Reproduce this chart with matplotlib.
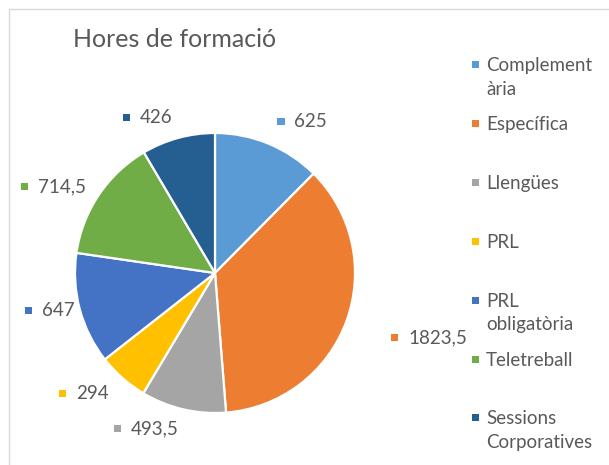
import matplotlib
matplotlib.use('Agg')
import matplotlib.pyplot as plt
from matplotlib.patches import Rectangle
from matplotlib.offsetbox import DrawingArea, TextArea, HPacker, AnnotationBbox
import numpy as np

categories = ['Complementària', 'Específica', 'Llengües', 'PRL',
              'PRL obligatòria', 'Teletreball', 'Sessions Corporatives']
legend_labels = ['Complement\nària', 'Específica', 'Llengües', 'PRL',
                 'PRL\nobligatòria', 'Teletreball', 'Sessions\nCorporatives']
values = [625, 1823.5, 493.5, 294, 647, 714.5, 426]
value_labels = ['625', '1823,5', '493,5', '294', '647', '714,5', '426']
colors = ['#5B9BD5', '#ED7D31', '#A5A5A5', '#FFC000', '#4472C4', '#70AD47', '#255E91']
title = 'Hores de formació'

# label placement (radial distance as a fraction of the radius)
label_dist = [1.17, 1.34, 1.14, 1.15, 1.04, 1.11, 1.15]

W, H = 609, 465
FONT = 'Lato'
TXT = '#595959'

fig = plt.figure(figsize=(W / 100, H / 100), dpi=100)
ax = fig.add_axes([0, 0, 1, 1])

cx, cy, R = 215, H - 273, 140
wedges, _ = ax.pie(values, colors=colors, startangle=90, counterclock=False,
                   center=(cx, cy), radius=R,
                   wedgeprops=dict(edgecolor='white', linewidth=1.6))
ax.set_xlim(0, W)
ax.set_ylim(0, H)
ax.set_aspect('auto')
ax.axis('off')

# chart area border
ax.add_patch(Rectangle((8.5, -30), W + 50, (H - 9.5) + 30, fill=False,
                       edgecolor='#D9D9D9', lw=1.0))

# title
ax.text(73, H - 47, title, fontsize=18, family=FONT, color=TXT, va='baseline', ha='left')

# data labels
for w, lab, col, dist in zip(wedges, value_labels, colors, label_dist):
    ang = np.deg2rad((w.theta1 + w.theta2) / 2)
    x = cx + dist * R * np.cos(ang)
    y = cy + dist * R * np.sin(ang)
    da = DrawingArea(5.2, 5.2, 0, 0)
    da.add_artist(Rectangle((0, 0), 5.2, 5.2, fc=col, ec='none'))
    ta = TextArea(lab, textprops=dict(fontsize=13.5, family=FONT, color=TXT))
    pk = HPacker(children=[da, ta], align='center', pad=0, sep=7)
    ab = AnnotationBbox(pk, (x, y), xycoords='data', frameon=False,
                        box_alignment=(0, 0.5) if np.cos(ang) >= 0 else (1, 0.5), pad=0)
    ax.add_artist(ab)

# legend
for i, (lab, col) in enumerate(zip(legend_labels, colors)):
    my = 65 + i * 58.8
    ax.add_patch(Rectangle((471.5, H - my - 3.5), 7, 7, fc=col, ec='none'))
    ax.text(486, H - my + 7.5, lab, fontsize=13.5, family=FONT, color=TXT,
            va='top', ha='left', linespacing=1.45)

fig.savefig('out.png', dpi=100)
